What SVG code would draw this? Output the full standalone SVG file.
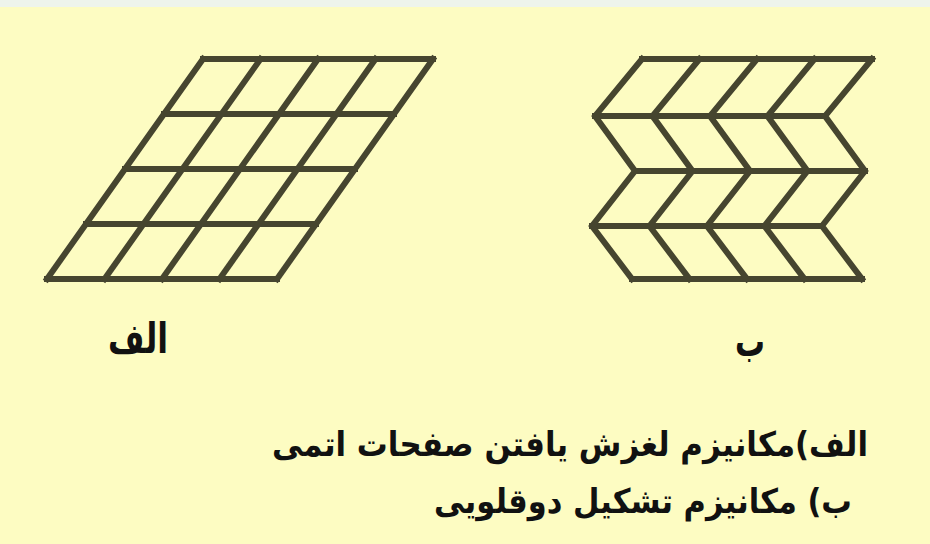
<svg xmlns="http://www.w3.org/2000/svg" width="930" height="544" viewBox="0 0 930 544">
<style>
.bg{fill:#fdfcc2}
.strip{fill:#eef4ec}
.grid line,.grid polyline{stroke:#46452f;stroke-width:6;fill:none;stroke-linecap:square;stroke-linejoin:miter;stroke-miterlimit:6}
.lbl{font-family:"DejaVu Sans",sans-serif;font-weight:bold;fill:#111}
.cap{font-size:34px}
.big{font-size:42px}
</style>
<rect class="bg" x="0" y="0" width="930" height="544"/>
<rect class="strip" x="0" y="0" width="930" height="7"/>
<g id="grid-a" class="grid">
<line x1="203" y1="59" x2="433" y2="59"/>
<line x1="164" y1="114" x2="394" y2="114"/>
<line x1="125" y1="169" x2="355" y2="169"/>
<line x1="86" y1="224" x2="316" y2="224"/>
<line x1="47" y1="279" x2="277" y2="279"/>
<line x1="203" y1="59" x2="47" y2="279"/>
<line x1="260.5" y1="59" x2="104.5" y2="279"/>
<line x1="318" y1="59" x2="162" y2="279"/>
<line x1="375.5" y1="59" x2="219.5" y2="279"/>
<line x1="433" y1="59" x2="277" y2="279"/>
</g>
<g id="grid-b" class="grid">
<line x1="642" y1="59" x2="872" y2="59"/>
<line x1="595" y1="116" x2="825" y2="116"/>
<line x1="635" y1="171" x2="865" y2="171"/>
<line x1="592" y1="226" x2="822" y2="226"/>
<line x1="632" y1="279" x2="862" y2="279"/>
<polyline points="642,59 595,116 635,171 592,226 632,279"/>
<polyline points="699.5,59 652.5,116 692.5,171 649.5,226 689.5,279"/>
<polyline points="757,59 710,116 750,171 707,226 747,279"/>
<polyline points="814.5,59 767.5,116 807.5,171 764.5,226 804.5,279"/>
<polyline points="872,59 825,116 865,171 822,226 862,279"/>
</g>
<g id="label-a"><text class="lbl big" x="108" y="353" textLength="60" lengthAdjust="spacingAndGlyphs">الف</text></g>
<g id="label-b"><text class="lbl big" x="735" y="356" textLength="30" lengthAdjust="spacingAndGlyphs">ب</text></g>
<g id="caption">
<text class="lbl cap" x="868" y="456" direction="rtl" textLength="596" lengthAdjust="spacingAndGlyphs">الف)مکانیزم لغزش یافتن صفحات اتمی</text>
<text class="lbl cap" x="852" y="513" direction="rtl" textLength="418" lengthAdjust="spacingAndGlyphs">ب) مکانیزم تشکیل دوقلویی</text>
</g>
</svg>
